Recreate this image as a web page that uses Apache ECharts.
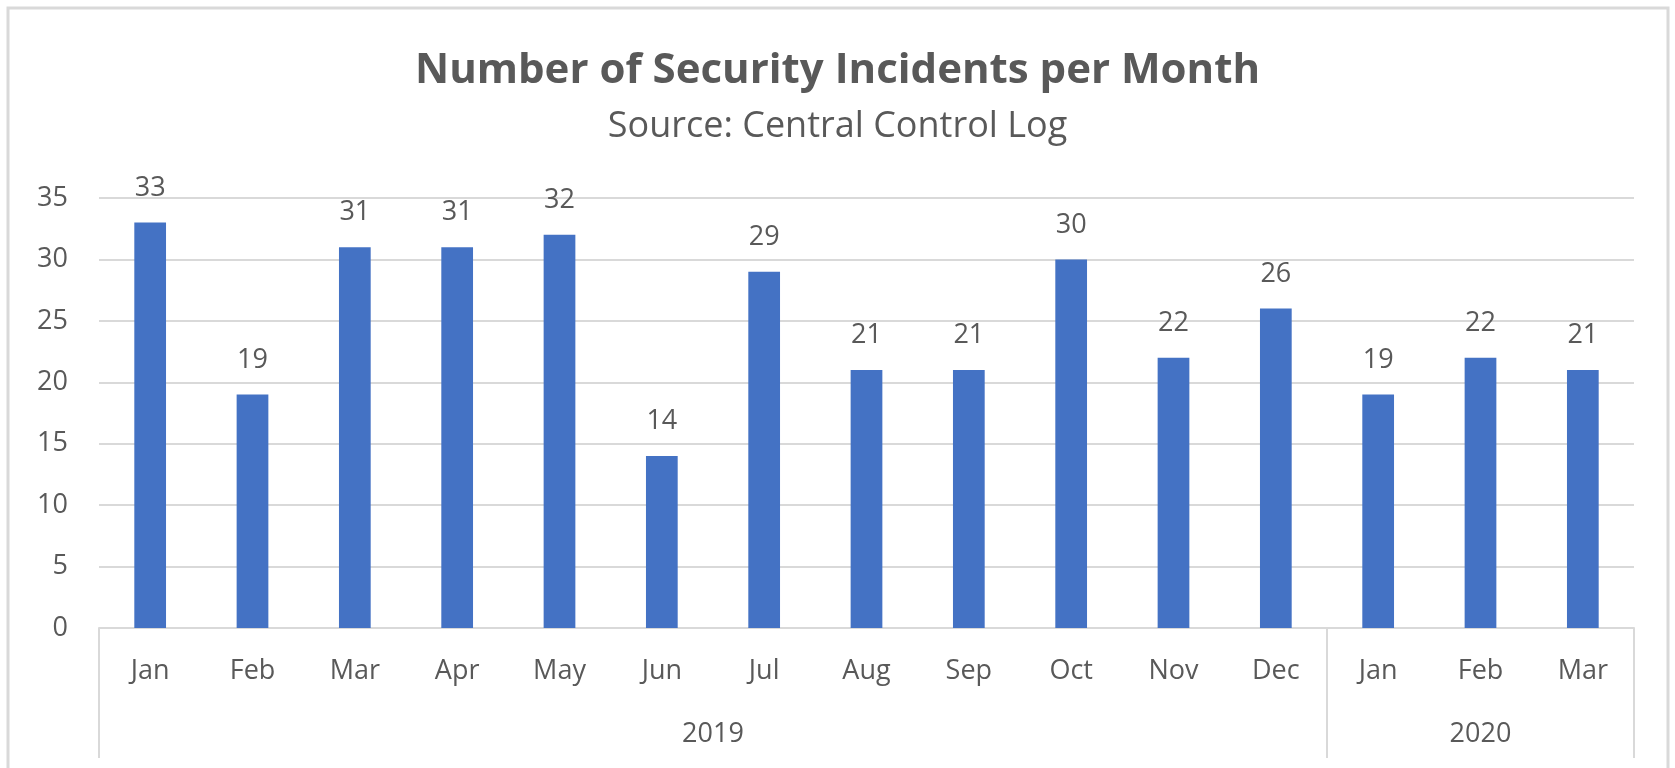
<!DOCTYPE html>
<html>
<head>
<meta charset="utf-8">
<script src="https://cdn.jsdelivr.net/npm/echarts@6/dist/echarts.min.js"></script>
<style>
  html, body { margin: 0; padding: 0; background: #fff; }
  #main { width: 1675px; height: 768px; }
</style>
</head>
<body>
<div id="main"></div>
<script>
// monthly counts, Jan 2019 .. Mar 2020
var months = ['Jan', 'Feb', 'Mar', 'Apr', 'May', 'Jun', 'Jul', 'Aug', 'Sep', 'Oct', 'Nov', 'Dec', 'Jan', 'Feb', 'Mar'];
var incidents = [33, 19, 31, 31, 32, 14, 29, 21, 21, 30, 22, 26, 19, 22, 21];
var years = ['2019', '2020'];
var monthsPerYear = [12, 3];
var yTicks = [0, 5, 10, 15, 20, 25, 30, 35];

var textColor = '#595959';
var lineColor = '#d9d9d9';
var font = 'Open Sans';

// year group boundaries and centres on a 0..n value scale
var bounds = [0];
var centres = [];
monthsPerYear.forEach(function (n, i) {
    centres.push(bounds[i] + n / 2);
    bounds.push(bounds[i] + n);
});

var myChart = echarts.init(document.getElementById('main'));
myChart.setOption({
    backgroundColor: '#fff',
    textStyle: { fontFamily: font },
    title: [{
        text: 'Number of Security Incidents per Month',
        left: 'center',
        top: 45,
        textStyle: { color: textColor, fontSize: 42, fontWeight: 'bold', fontFamily: font }
    }, {
        text: 'Source: Central Control Log',
        left: 'center',
        top: 104,
        textStyle: { color: textColor, fontSize: 36, fontWeight: 'normal', fontFamily: font }
    }],
    graphic: [{
        type: 'rect',
        shape: { x: 8, y: 8, width: 1660, height: 800 },
        style: { fill: null, stroke: lineColor, lineWidth: 3 },
        silent: true
    }],
    grid: { left: 99, right: 41, top: 198, bottom: 140 },
    xAxis: [{
        type: 'category',
        data: months,
        axisLine: { lineStyle: { color: lineColor, width: 2 } },
        axisTick: { show: false },
        axisLabel: { color: textColor, fontSize: 27, margin: 30, interval: 0 }
    }, {
        type: 'value',
        position: 'bottom',
        min: 0,
        max: bounds[bounds.length - 1],
        splitLine: { show: false },
        axisLine: { show: false },
        axisTick: {
            show: true,
            length: 130,
            customValues: bounds,
            lineStyle: { color: lineColor, width: 2 }
        },
        axisLabel: {
            color: textColor,
            fontSize: 27,
            margin: 93,
            customValues: centres,
            formatter: function (v) {
                return years[centres.indexOf(v)];
            }
        }
    }],
    yAxis: {
        type: 'value',
        min: 0,
        max: 35,
        interval: 5,
        axisLine: { show: false },
        axisTick: { show: false },
        splitLine: { lineStyle: { color: lineColor, width: 2 } },
        axisLabel: {
            color: textColor,
            fontSize: 27,
            margin: 31,
            customValues: yTicks
        }
    },
    series: [{
        name: 'Incidents',
        type: 'bar',
        xAxisIndex: 0,
        data: incidents,
        barWidth: '31%',
        itemStyle: { color: '#4472C4' },
        label: {
            show: true,
            position: 'top',
            distance: 21,
            color: textColor,
            fontSize: 27,
            fontFamily: font
        }
    }]
});
</script>
</body>
</html>
